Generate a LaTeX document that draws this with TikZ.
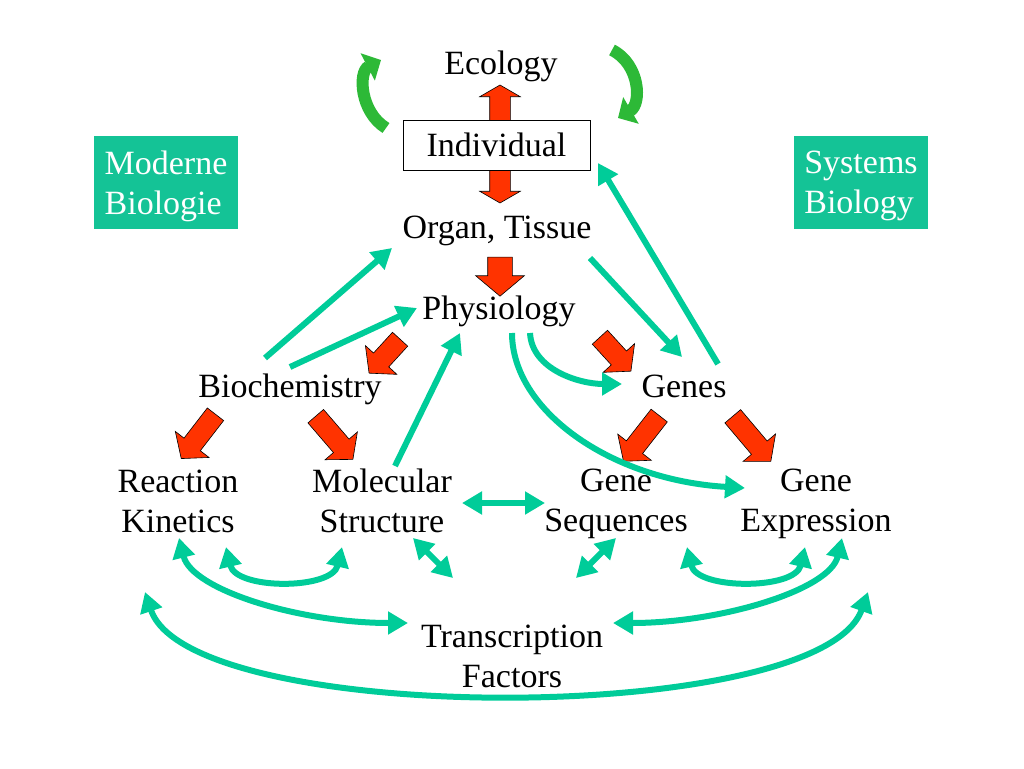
\documentclass[tikz,border=0pt]{standalone}
\usepackage{fontspec}
\setmainfont{Liberation Serif}
\usetikzlibrary{arrows.meta,shapes.arrows}
\definecolor{linkgreen}{RGB}{0,204,153}
\definecolor{badgegreen}{RGB}{20,195,150}
\definecolor{pushred}{RGB}{255,51,0}
\definecolor{swirlgreen}{RGB}{45,185,55}

\begin{document}
\begin{tikzpicture}[x=1pt,y=-1pt,
		font=\fontsize{34}{40}\selectfont,
		txt/.style={align=center, inner sep=2pt},
		badge/.style={fill=badgegreen, text=white, align=left, text depth=0pt, minimum width=144pt, minimum height=93pt},
		link/.style={draw=linkgreen, line width=6pt, -{Triangle[length=20pt,width=22pt]}},
		dlink/.style={draw=linkgreen, line width=6pt, {Triangle[length=20pt,width=22pt]}-{Triangle[length=20pt,width=22pt]}},
		push/.style={single arrow, draw=black, line width=0.6pt, fill=pushred, inner xsep=0pt, inner ysep=10pt, single arrow head extend=11pt, single arrow tip angle=100},
		swirl/.style={draw=swirlgreen, line width=12pt, -{Triangle[length=15pt,width=30pt]}}
	]
		\useasboundingbox (0,0) rectangle (1024,768);

		\node[double arrow, draw=black, line width=0.6pt, fill=pushred, inner xsep=0pt, inner ysep=10pt, double arrow head extend=10pt, double arrow tip angle=120, minimum height=118pt, rotate=90] (eiarrow) at (500,144) {};

		\node[txt] (eco) at (501,66) {Ecology};
		\node[draw, line width=0.8pt, fill=white, minimum width=187pt, minimum height=50pt] (ind) at (496.5,145) {Individual};
		\node[txt] (org) at (497,231) {Organ, Tissue};
		\node[txt] (phys) at (499,311) {Physiology};
		\node[txt] (bio) at (290,389) {Biochemistry};
		\node[txt] (genes) at (684,386) {Genes};
		\node[txt] (kin) at (178,501) {Reaction\\Kinetics};
		\node[txt] (mol) at (382,501) {Molecular\\Structure};
		\node[txt] (seq) at (616,504) {Gene\\Sequences};
		\node[txt] (expr) at (816,504) {Gene\\Expression};
		\node[txt] (tf) at (512,656) {Transcription\\Factors};
		\node[badge] (mod) at (166,182.5) {Moderne\\Biologie};
		\node[badge, minimum width=134pt] (sys) at (861,182.5) {Systems\\Biology};

		\node[push, inner ysep=12pt, single arrow head extend=12pt, minimum height=39pt, rotate=-90] (op) at (500,271.5) {};
		\node[push, minimum height=46pt, rotate=-132.4] (pb) at (387.5,353) {};
		\node[push, minimum height=46pt, rotate=-47.6] (pg) at (612.5,351) {};
		\node[push, minimum height=56pt, rotate=-127.7] (bk) at (201,433) {};
		\node[push, minimum height=57pt, rotate=-49.3] (bm) at (331.5,434.5) {};
		\node[push, minimum height=58pt, rotate=-128] (gs) at (644,435) {};
		\node[push, minimum height=59pt, rotate=-49.8] (ge) at (749,435.5) {};

		\draw[swirl] (386,128) .. controls (360,112) and (358,72) .. (381,60);
		\draw[swirl] (612,50) .. controls (640,64) and (642,104) .. (618,118);

		\draw[link] ([shift={(-25,-31)}]bio.center) -- ([shift={(-105,17)}]org.center);
		\draw[link] ([shift={(0,-22)}]bio.center) -- ([shift={(-82,-3)}]phys.center);
		\draw[link] ([shift={(13,-35)}]mol.center) -- ([shift={(-39,22)}]phys.center);
		\draw[link] ([shift={(93,27)}]org.center) -- ([shift={(-2,-29)}]genes.center);
		\draw[link] ([shift={(34,-22)}]genes.center) -- ([shift={(101.5,18)}]ind.center);
		\draw[link] ([shift={(31,22)}]phys.center) .. controls +(2,37) and +(-42,0) .. ([shift={(-62,-2)}]genes.center);
		\draw[link] ([shift={(13,22)}]phys.center) .. controls +(0,77) and +(-135,-8) .. ([shift={(-71,-16)}]expr.center);
		\draw[dlink] ([shift={(80,2)}]mol.center) -- ([shift={(-71,-1)}]seq.center);
		\draw[dlink] ([shift={(48,46)}]kin.center) .. controls +(10,43) and +(-10,43) .. ([shift={(-40,46)}]mol.center);
		\draw[dlink] ([shift={(31,37)}]mol.center) -- ([shift={(-59,-78)}]tf.center);
		\draw[dlink] ([shift={(0,34)}]seq.center) -- ([shift={(64,-78)}]tf.center);
		\draw[dlink] ([shift={(71,43)}]seq.center) .. controls +(10,43) and +(-10,43) .. ([shift={(-11,43)}]expr.center);
		\draw[dlink] ([shift={(1,37)}]kin.center) .. controls +(13,52) and +(-108,0) .. ([shift={(-104,-33)}]tf.center);
		\draw[dlink] ([shift={(26,34)}]expr.center) .. controls +(-12,52) and +(107,0) .. ([shift={(101,-33)}]tf.center);
		\draw[dlink] ([shift={(-33,91)}]kin.center) .. controls +(45,135) and +(-48,135) .. ([shift={(52,88)}]expr.center);
	\end{tikzpicture}
\end{document}
